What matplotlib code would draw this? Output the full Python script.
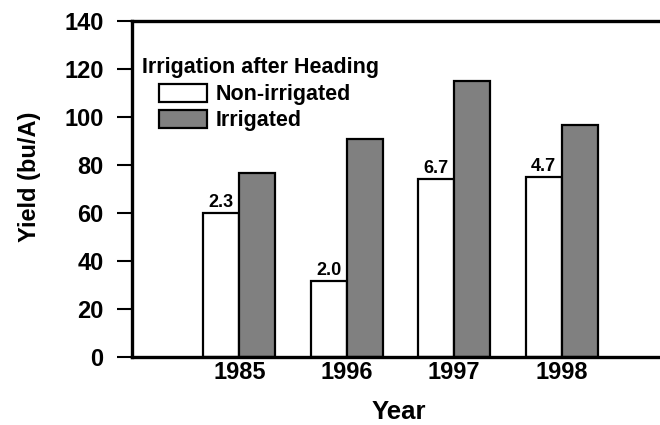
import numpy as np
import matplotlib.pyplot as plt
from matplotlib.patches import Patch

# data
years = ['1985', '1996', '1997', '1998']
non_irrigated = [60, 31.5, 74, 75]
irrigated = [76.5, 91, 115, 96.5]
diff_labels = ['2.3', '2.0', '6.7', '4.7']

plt.rcParams['font.family'] = ['Liberation Sans', 'DejaVu Sans']
plt.rcParams['font.weight'] = 'bold'

fig = plt.figure(figsize=(6.6, 4.25), dpi=100)
ax = fig.add_axes([132 / 660, 68 / 425, 537 / 660, 336 / 425])

x = np.arange(len(years))
w = 0.335
ax.bar(x - w, non_irrigated, w, align='edge', color='white',
       edgecolor='black', linewidth=1.6)
ax.bar(x, irrigated, w, align='edge', color='#808080',
       edgecolor='black', linewidth=1.6)

for xi, v, t in zip(x, non_irrigated, diff_labels):
    ax.text(xi - w / 2, v + 0.8, t, ha='center', va='bottom',
            fontsize=13, fontweight='bold')

ax.set_xlim(-1, 4)
ax.set_ylim(0, 140)
ax.set_yticks(np.arange(0, 141, 20))
ax.set_xticks(x)
ax.set_xticklabels(years)

ax.tick_params(axis='y', direction='out', length=10.5, width=1.5,
               pad=10, labelsize=17)
ax.tick_params(axis='x', length=0, pad=3, labelsize=17)

for s in ['left', 'bottom', 'top']:
    ax.spines[s].set_linewidth(2.4)
ax.spines['right'].set_visible(False)

ax.set_xlabel('Year', fontsize=18.5, fontweight='bold', va='center')
ax.xaxis.set_label_coords(0.497, -0.163)
ax.set_ylabel('Yield (bu/A)', fontsize=17, fontweight='bold', va='center')
ax.yaxis.set_label_coords(-0.19, 0.536)

fig.text(142 / 660, 1 - 68 / 425, 'Irrigation after Heading',
         fontsize=15.5, fontweight='bold', va='center')
handles = [Patch(facecolor='white', edgecolor='black', linewidth=1.6),
           Patch(facecolor='#808080', edgecolor='black', linewidth=1.6)]
leg = ax.legend(handles, ['Non-irrigated', 'Irrigated'], frameon=False,
                loc='upper left', bbox_to_anchor=(159 / 660, 1 - 84 / 425),
                bbox_transform=fig.transFigure, fontsize=15.5,
                handlelength=2.25, handleheight=0.9, handletextpad=0.37,
                labelspacing=0.2, borderpad=0, borderaxespad=0)

fig.savefig('out.png', dpi=100)
